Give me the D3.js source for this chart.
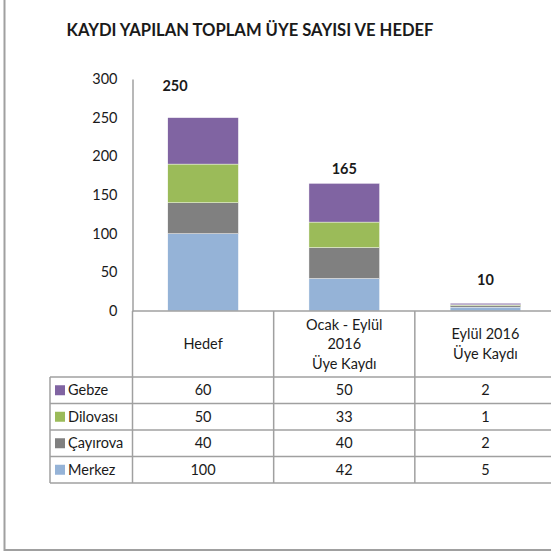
<!DOCTYPE html>
<html>
  <head>
    <meta charset="utf-8" />
    <title>Kaydı yapılan toplam üye sayısı ve hedef</title>
    <style>
      body {
        margin: 0;
        background: #fff;
        font-family: Lato, "Open Sans", sans-serif;
      }
      .grid line {
        stroke: #a0a0a0;
        stroke-width: 1.5;
      }
      text {
        fill: #1a1a1a;
      }
    </style>
    <script src="https://d3js.org/d3.v7.min.js" charset="utf-8"></script>
  </head>
  <body>
    <script>
      // data
      const categories = ["Hedef", "Ocak - Eylül 2016 Üye Kaydı", "Eylül 2016 Üye Kaydı"];
      const categoryLines = [["Hedef"], ["Ocak - Eylül", "2016", "Üye Kaydı"], ["Eylül 2016", "Üye Kaydı"]];
      const seriesNames = ["Merkez", "Çayırova", "Dilovası", "Gebze"];
      const merkez = [100, 42, 5];
      const cayirova = [40, 40, 2];
      const dilovasi = [50, 33, 1];
      const gebze = [60, 50, 2];
      const totals = [250, 165, 10];
      const yTicks = [0, 50, 100, 150, 200, 250, 300];

      const colors = ["#95b3d7", "#808080", "#9bbb59", "#8064a2"];
      // hand nudges for the total labels (Excel placed them freely)
      const labelNudge = [[-28, -27], [0, -9], [0, -18]];

      const width = 551,
        height = 553;

      const svg = d3
        .select("body")
        .append("svg")
        .attr("width", width)
        .attr("height", height);

      // outer frame
      svg
        .append("rect")
        .attr("x", 4.5)
        .attr("y", -5)
        .attr("width", 570)
        .attr("height", 555)
        .attr("fill", "none")
        .attr("stroke", "#a0a0a0")
        .attr("stroke-width", 2);

      svg
        .append("text")
        .attr("x", 250)
        .attr("y", 36)
        .attr("text-anchor", "middle")
        .style("font-weight", "bold")
        .style("font-size", "16.6px")
        .text("KAYDI YAPILAN TOPLAM ÜYE SAYISI VE HEDEF");

      const x = d3.scaleBand().domain(categories).range([132.5, 556]);
      const y = d3.scaleLinear().domain([0, 300]).range([311, 79]);

      const rows = seriesNames.map(function (name, i) {
        return { name: name, values: [merkez, cayirova, dilovasi, gebze][i], color: colors[i] };
      });

      const table = categories.map(function (c, j) {
        const o = { cat: c };
        rows.forEach(function (r) {
          o[r.name] = r.values[j];
        });
        return o;
      });

      const stack = d3.stack().keys(seriesNames)(table);

      // y axis
      const yAxis = svg
        .append("g")
        .attr("transform", "translate(132.5,0)")
        .call(d3.axisLeft(y).tickValues(yTicks).tickSize(0).tickPadding(15));
      yAxis.select(".domain").attr("stroke", "#a0a0a0").attr("stroke-width", 1.5);
      yAxis
        .selectAll("text")
        .style("font-family", "Lato, sans-serif")
        .style("font-size", "14.5px")
        .attr("fill", "#1a1a1a");

      // bars
      const bw = x.bandwidth() * 0.5;
      svg
        .selectAll(".layer")
        .data(stack)
        .join("g")
        .attr("class", "layer")
        .attr("fill", function (d, i) {
          return colors[i];
        })
        .selectAll("rect")
        .data(function (d) {
          return d;
        })
        .join("rect")
        .attr("x", function (d) {
          return x(d.data.cat) + (x.bandwidth() - bw) / 2;
        })
        .attr("y", function (d) {
          return y(d[1]);
        })
        .attr("width", bw)
        .attr("height", function (d) {
          return y(d[0]) - y(d[1]);
        })
        .attr("stroke", "#fff")
        .attr("stroke-width", 0.4);

      // totals
      svg
        .selectAll(".total")
        .data(totals)
        .join("text")
        .attr("class", "total")
        .attr("x", function (d, i) {
          return x(categories[i]) + x.bandwidth() / 2 + labelNudge[i][0];
        })
        .attr("y", function (d, i) {
          return y(d) + labelNudge[i][1];
        })
        .attr("text-anchor", "middle")
        .style("font-weight", "bold")
        .style("font-size", "14.5px")
        .text(function (d) {
          return d;
        });

      // data table
      const tableTop = y(0),
        headBottom = 377,
        rowH = 26.5,
        left = 50,
        right = x.range()[1];
      const tableRows = rows.slice().reverse();
      const grid = svg.append("g").attr("class", "grid");

      grid.append("line").attr("x1", x.range()[0]).attr("x2", right).attr("y1", tableTop).attr("y2", tableTop);
      d3.range(tableRows.length + 1).forEach(function (k) {
        const yy = headBottom + k * rowH;
        grid.append("line").attr("x1", left).attr("x2", right).attr("y1", yy).attr("y2", yy);
      });
      grid
        .append("line")
        .attr("x1", left)
        .attr("x2", left)
        .attr("y1", headBottom)
        .attr("y2", headBottom + tableRows.length * rowH);
      categories.concat([null]).forEach(function (c, j) {
        const xx = c ? x(c) : right;
        grid
          .append("line")
          .attr("x1", xx)
          .attr("x2", xx)
          .attr("y1", tableTop)
          .attr("y2", headBottom + tableRows.length * rowH);
      });

      // column headers
      categoryLines.forEach(function (lines, j) {
        const cx = x(categories[j]) + x.bandwidth() / 2;
        const cy = (tableTop + headBottom) / 2;
        const t = svg
          .append("text")
          .attr("text-anchor", "middle")
          .style("font-size", "14.5px");
        lines.forEach(function (line, k) {
          t.append("tspan")
            .attr("x", cx)
            .attr("y", cy + (k - (lines.length - 1) / 2) * 19.5)
            .attr("dy", "0.35em")
            .text(line);
        });
      });

      // rows with legend keys
      tableRows.forEach(function (r, k) {
        const cy = headBottom + k * rowH + rowH / 2;
        svg
          .append("rect")
          .attr("x", 55)
          .attr("y", cy - 5)
          .attr("width", 10)
          .attr("height", 10)
          .attr("fill", r.color);
        svg
          .append("text")
          .attr("x", 68)
          .attr("y", cy)
          .attr("dy", "0.35em")
          .style("font-size", "14.5px")
          .text(r.name);
        r.values.forEach(function (v, j) {
          svg
            .append("text")
            .attr("x", x(categories[j]) + x.bandwidth() / 2)
            .attr("y", cy)
            .attr("dy", "0.35em")
            .attr("text-anchor", "middle")
            .style("font-size", "14.5px")
            .text(v);
        });
      });
    </script>
  </body>
</html>
